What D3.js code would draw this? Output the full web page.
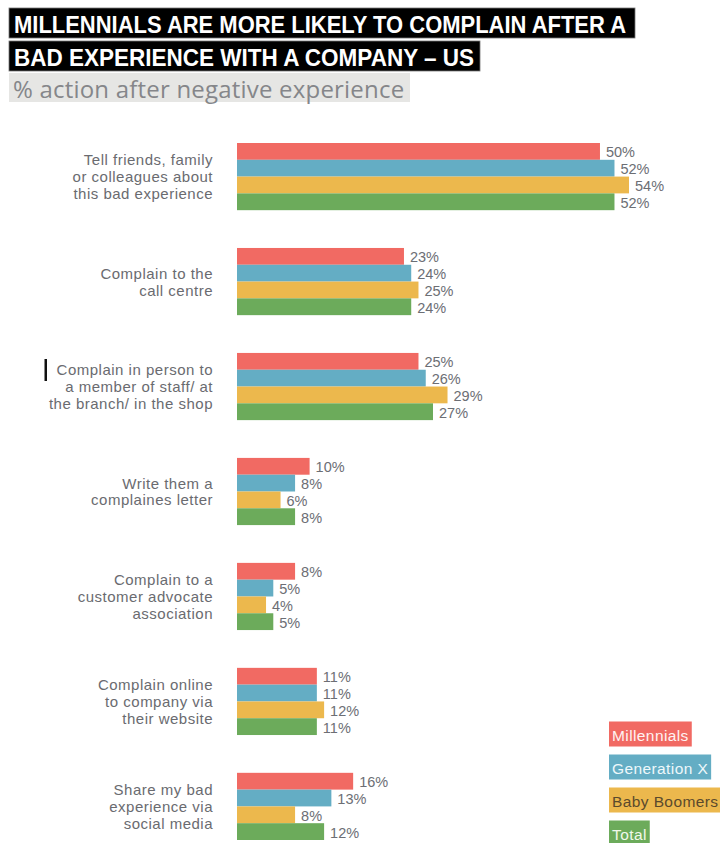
<!DOCTYPE html>
<html>
<head>
<meta charset="utf-8">
<script src="https://cdn.jsdelivr.net/npm/d3@7"></script>
<style>
  html, body { margin: 0; padding: 0; background: #fff; }
  svg { display: block; }
</style>
</head>
<body>
<svg id="chart" width="720" height="843"></svg>
<script>
// Survey: action taken after a negative experience with a company (US), by generation
const categories = [
  "Tell friends, family or colleagues about this bad experience",
  "Complain to the call centre",
  "Complain in person to a member of staff/ at the branch/ in the shop",
  "Write them a complaines letter",
  "Complain to a customer advocate association",
  "Complain online to company via their website",
  "Share my bad experience via social media"
];
const categoryLines = [
  ["Tell friends, family", "or colleagues about", "this bad experience"],
  ["Complain to the", "call centre"],
  ["Complain in person to", "a member of staff/ at", "the branch/ in the shop"],
  ["Write them a", "complaines letter"],
  ["Complain to a", "customer advocate", "association"],
  ["Complain online", "to company via", "their website"],
  ["Share my bad", "experience via", "social media"]
];
const seriesNames = ["Millennials", "Generation X", "Baby Boomers", "Total"];
const millennials = [50, 23, 25, 10, 8, 11, 16];
const generationX = [52, 24, 26, 8, 5, 11, 13];
const babyBoomers = [54, 25, 29, 6, 4, 12, 8];
const total       = [52, 24, 27, 8, 5, 11, 12];
const seriesValues = [millennials, generationX, babyBoomers, total];
const colors = ["#f16a63", "#64adc4", "#ecb84d", "#6cab5b"];
const legendText = ["#fff2f2", "#eef8fb", "#5b4a2c", "#f0f8ea"];

const titleLines = ["MILLENNIALS ARE MORE LIKELY TO COMPLAIN AFTER A", "BAD EXPERIENCE WITH A COMPANY \u2013 US"];
const subtitle = "% action after negative experience";

const svg = d3.select("#chart");

// ---- title blocks (bold face squeezed into a condensed width)
const titleFont = "'Liberation Sans', Arial, sans-serif";
const titleBoxes = [{y: 8, h: 30, w: 626, tw: 612}, {y: 41, h: 30, w: 471, tw: 460}];
titleLines.forEach((t, i) => {
  const b = titleBoxes[i];
  svg.append("rect").attr("x", 9).attr("y", b.y).attr("width", b.w).attr("height", b.h)
    .attr("fill", "#000").attr("stroke", "#777").attr("stroke-width", 0.8);
  svg.append("text").attr("x", 14).attr("y", b.y + b.h / 2 + 1)
    .attr("dominant-baseline", "central")
    .attr("font-family", titleFont).attr("font-weight", "bold").attr("font-size", 24)
    .attr("textLength", b.tw).attr("lengthAdjust", "spacingAndGlyphs")
    .attr("fill", "#fff").text(t);
});
svg.append("rect").attr("x", 9).attr("y", 73).attr("width", 401).attr("height", 29).attr("fill", "#e6e6e4");
svg.append("text").attr("x", 13).attr("y", 88)
  .attr("dominant-baseline", "central")
  .attr("font-family", "'Open Sans', 'Liberation Sans', sans-serif").attr("font-size", 24)
  .attr("letter-spacing", 0.2)
  .attr("fill", "#85868a").text(subtitle);

// ---- scales
const y = d3.scaleBand().domain(categories).range([143, 840]).paddingInner(0.36).paddingOuter(0);
const ySub = d3.scaleBand().domain(seriesNames).range([0, y.bandwidth()]);
const x = d3.scaleLinear().domain([0, 54]).range([237, 629]);

const labelFont = "'Liberation Sans', Arial, sans-serif";

const groups = svg.append("g").selectAll("g").data(categories).join("g")
  .attr("transform", d => `translate(0,${y(d)})`);

groups.each(function(cat, ci) {
  const g = d3.select(this);
  seriesNames.forEach((s, si) => {
    const v = seriesValues[si][ci];
    g.append("rect")
      .attr("x", x(0)).attr("y", ySub(s))
      .attr("width", x(v) - x(0)).attr("height", ySub.bandwidth())
      .attr("fill", colors[si]);
  });
  seriesNames.forEach((s, si) => {
    const v = seriesValues[si][ci];
    g.append("text")
      .attr("x", x(v) + 6).attr("y", ySub(s) + ySub.bandwidth() / 2 + 1)
      .attr("dominant-baseline", "central")
      .attr("font-family", labelFont).attr("font-size", 14.5)
      .attr("fill", "#6c6e74").text(v + "%");
  });
  // category label, right-aligned, vertically centered on the group
  const lines = categoryLines[ci];
  const lh = 16.9;
  const cy = y.bandwidth() / 2;
  const t = g.append("text")
    .attr("text-anchor", "end")
    .attr("font-family", labelFont).attr("font-size", 15)
    .attr("letter-spacing", 0.5)
    .attr("fill", "#6a6b70");
  lines.forEach((ln, li) => {
    t.append("tspan").attr("x", 213)
      .attr("y", cy + (li - (lines.length - 1) / 2) * lh)
      .attr("dominant-baseline", "central")
      .text(ln);
  });
});

// text caret beside the third label
svg.append("rect").attr("x", 44.5).attr("y", 359).attr("width", 2.5).attr("height", 22).attr("fill", "#111");

// ---- legend
const legend = svg.append("g");
const legY = d3.scaleBand().domain(seriesNames).range([721.5, 721.5 + 3 * 33 + 25]).paddingInner(8 / 33).paddingOuter(0);
seriesNames.forEach((s, i) => {
  const row = legend.append("g").attr("transform", `translate(609,${legY(s)})`);
  const r = row.append("rect").attr("x", 0).attr("y", 0).attr("height", legY.bandwidth()).attr("fill", colors[i]);
  const t = row.append("text").attr("x", 3).attr("y", legY.bandwidth() / 2 + 1)
    .attr("dominant-baseline", "central")
    .attr("font-family", labelFont).attr("font-size", 15.5)
    .attr("letter-spacing", 0.4)
    .attr("fill", legendText[i]).text(s);
  const w = t.node().getComputedTextLength();
  r.attr("width", w + 6);
});
</script>
</body>
</html>
